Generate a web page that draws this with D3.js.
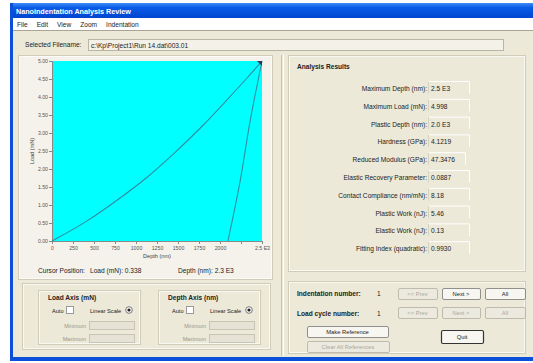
<!DOCTYPE html>
<html><head><meta charset="utf-8">
<script src="https://cdn.jsdelivr.net/npm/d3@7"></script>
<style>
html,body{margin:0;padding:0;background:#fff;overflow:hidden}
svg{display:block;font-family:"Liberation Sans",Arial,sans-serif}
</style></head><body>
<svg id="c" width="533" height="363"></svg>
<script>
// ---- data ----
const loadingDepth = [0, 417, 810, 1131, 1440, 1786, 2083, 2321, 2500];
const loadingLoad  = [0, 0.53, 1.19, 1.75, 2.40, 3.17, 3.92, 4.52, 5.0];
const unloadingDepth = [2500, 2357, 2238, 2095];
const unloadingLoad  = [5.0, 3.31, 1.64, 0];
const xTickValues = [0, 250, 500, 750, 1000, 1250, 1500, 1750, 2000, 2250, 2500];
const xTickLabels = ["0", "250", "500", "750", "1000", "1250", "1500", "1750", "2000", "", "2.5 E3"];
const yTickValues = [0, 0.5, 1, 1.5, 2, 2.5, 3, 3.5, 4, 4.5, 5];
const yTickLabels = ["0.00", "0.50", "1.00", "1.50", "2.00", "2.50", "3.00", "3.50", "4.00", "4.50", "5.00"];
const resultLabels = ["Maximum Depth (nm):", "Maximum Load (mN):", "Plastic Depth (nm):", "Hardness (GPa):",
  "Reduced Modulus (GPa):", "Elastic Recovery Parameter:", "Contact Compliance (nm/mN):",
  "Plastic Work (nJ):", "Elastic Work (nJ):", "Fitting Index (quadratic):"];
const resultValues = ["2.5 E3", "4.998", "2.0 E3", "4.1219", "47.3476", "0.0887", "8.18", "5.46", "0.13", "0.9930"];
const menuItems = ["File", "Edit", "View", "Zoom", "Indentation"];

const svg = d3.select("#c");
const BG = "#ece9d8", FONT = 6.6, TXT = "#222";

// window background
svg.append("rect").attr("width",533).attr("height",363).attr("fill","#fff");
svg.append("rect").attr("x",11).attr("y",3).attr("width",522).attr("height",357).attr("fill",BG);
const defs = svg.append("defs");
const tg = defs.append("linearGradient").attr("id","tb").attr("x1",0).attr("y1",0).attr("x2",0).attr("y2",1);
tg.append("stop").attr("offset","0").attr("stop-color","#3d8cf5");
tg.append("stop").attr("offset","0.3").attr("stop-color","#0a5ce8");
tg.append("stop").attr("offset","1").attr("stop-color","#0045d0");
svg.append("rect").attr("x",11).attr("y",3).attr("width",522).attr("height",15).attr("fill","url(#tb)");
svg.append("rect").attr("x",10).attr("y",3).attr("width",3).attr("height",357).attr("fill","#0a50d8");
svg.append("rect").attr("x",10).attr("y",357).attr("width",523).attr("height",4).attr("fill","#0a50d8");
svg.append("text").attr("x",16).attr("y",14).attr("fill","#fff").attr("font-size",7.2).attr("font-weight","bold")
  .text("Nanoindentation Analysis Review");
// menu bar
svg.append("rect").attr("x",13).attr("y",18).attr("width",520).attr("height",12).attr("fill","#fff");
let mx = 17;
menuItems.forEach(m => {
  const t = svg.append("text").attr("x",mx).attr("y",27).attr("font-size",FONT).attr("fill",TXT).text(m);
  mx += t.node().getComputedTextLength() + 9;
});
svg.append("line").attr("x1",13).attr("x2",533).attr("y1",30.5).attr("y2",30.5).attr("stroke","#a9a493");

// filename row
svg.append("text").attr("x",25).attr("y",47).attr("font-size",FONT).attr("fill",TXT).text("Selected Filename:");
svg.append("rect").attr("x",88.5).attr("y",39.5).attr("width",415).attr("height",11).attr("fill","#f3f1e8").attr("stroke","#b9b5a3");
svg.append("text").attr("x",91).attr("y",47.5).attr("font-size",FONT).attr("fill",TXT).text("c:\\Kp\\Project1\\Run 14.dat\\003.01");

function group(x,y,w,h){
  svg.append("rect").attr("x",x+0.5).attr("y",y+0.5).attr("width",w).attr("height",h).attr("fill","none").attr("stroke","#d0ccb8");
  svg.append("rect").attr("x",x+1.5).attr("y",y+1.5).attr("width",w-2).attr("height",h-2).attr("fill","none").attr("stroke","#fff").attr("stroke-opacity",0.7);
}
svg.append("rect").attr("x",18).attr("y",55).attr("width",254).attr("height",224).attr("fill","#f4f2ea");
group(18,55,254,224);
svg.append("line").attr("x1",281.5).attr("x2",281.5).attr("y1",55).attr("y2",356).attr("stroke","#c8c4b0");
svg.append("line").attr("x1",283.5).attr("x2",283.5).attr("y1",55).attr("y2",356).attr("stroke","#fff");

// ---- chart ----
const x = d3.scaleLinear().domain([0,2500]).range([52,262]);
const y = d3.scaleLinear().domain([0,5]).range([241,61]);
svg.append("rect").attr("x",x(0)).attr("y",y(5)).attr("width",x(2500)-x(0)).attr("height",y(0)-y(5)).attr("fill","#00ffff");

const xAxis = svg.append("g").attr("transform",`translate(0,${y(0)})`)
  .call(d3.axisBottom(x).tickValues(xTickValues).tickSize(3).tickPadding(2).tickFormat((d,i)=>xTickLabels[i]));
const yAxis = svg.append("g").attr("transform",`translate(${x(0)},0)`)
  .call(d3.axisLeft(y).tickValues(yTickValues).tickSize(3).tickPadding(1).tickFormat((d,i)=>yTickLabels[i]));
[xAxis,yAxis].forEach(a=>{
  a.select(".domain").attr("stroke","#888");
  a.selectAll(".tick line").attr("stroke","#888");
  a.selectAll("text").attr("font-size",5.2).attr("fill","#555").attr("font-family","Liberation Sans, Arial");
});
xAxis.selectAll(".tick text").filter((d,i)=>i===0).attr("fill","#e03020");

svg.append("text").attr("x",157).attr("y",258).attr("text-anchor","middle").attr("font-size",5.6).attr("fill","#444").text("Depth (nm)");
svg.append("text").attr("transform","translate(34,151) rotate(-90)").attr("text-anchor","middle").attr("font-size",5.6).attr("fill","#444").text("Load (mN)");

svg.append("path").datum(d3.zip(loadingDepth,loadingLoad))
  .attr("d",d3.line().x(d=>x(d[0])).y(d=>y(d[1])).curve(d3.curveBasis))
  .attr("fill","none").attr("stroke","#2f8fa0").attr("stroke-width",1.1);
svg.append("path").datum(d3.zip(unloadingDepth,unloadingLoad))
  .attr("d",d3.line().x(d=>x(d[0])).y(d=>y(d[1])).curve(d3.curveCatmullRom))
  .attr("fill","none").attr("stroke","#2f8fa0").attr("stroke-width",1.1);
svg.append("path").attr("d",`M${x(2500)-5},${y(5)}L${x(2500)},${y(5)}L${x(2500)},${y(5)+5}Z`).attr("fill","#335");

// cursor position
svg.append("text").attr("x",38).attr("y",273).attr("font-size",FONT).attr("fill",TXT).text("Cursor Position:");
svg.append("text").attr("x",90).attr("y",273).attr("font-size",FONT).attr("fill",TXT).text("Load (mN): 0.338");
svg.append("text").attr("x",178).attr("y",273).attr("font-size",FONT).attr("fill",TXT).text("Depth (nm): 2.3 E3");

// axis option groups
group(22,283,248,66);
[["Load Axis (mN)",38],["Depth Axis (nm)",158]].forEach(([title,gx])=>{
  group(gx,290,102,54);
  svg.append("text").attr("x",gx+10).attr("y",300).attr("font-size",FONT).attr("font-weight","bold").attr("fill",TXT).text(title);
  svg.append("text").attr("x",gx+14).attr("y",313).attr("font-size",5.6).attr("fill",TXT).text("Auto");
  svg.append("rect").attr("x",gx+28.5).attr("y",306.5).attr("width",7).attr("height",7).attr("fill","#fff").attr("stroke","#999");
  svg.append("text").attr("x",gx+52).attr("y",313).attr("font-size",5.6).attr("fill",TXT).text("Linear Scale");
  svg.append("circle").attr("cx",gx+91).attr("cy",310).attr("r",3.3).attr("fill","#fff").attr("stroke","#777");
  svg.append("circle").attr("cx",gx+91).attr("cy",310).attr("r",1.6).attr("fill","#222");
  [["Minimum",326],["Maximum",339]].forEach(([lab,yy])=>{
    svg.append("text").attr("x",gx+48).attr("y",yy+2).attr("text-anchor","end").attr("font-size",5.4).attr("fill","#9a978a").text(lab);
    svg.append("rect").attr("x",gx+51.5).attr("y",yy-4.5).attr("width",45).attr("height",8).attr("fill","#e6e3d6").attr("stroke","#c9c5b4");
  });
});

// analysis results
group(288,55,237,216);
svg.append("text").attr("x",297).attr("y",69).attr("font-size",FONT).attr("font-weight","bold").attr("fill",TXT).text("Analysis Results");
resultLabels.forEach((lab,i)=>{
  const yy = 91 + i*17.8;
  svg.append("text").attr("x",427).attr("y",yy).attr("text-anchor","end").attr("font-size",FONT).attr("fill",TXT).text(lab);
  const w = resultValues[i].length > 6 ? 37 : 41;
  svg.append("path").attr("d",`M428.5,${yy-9.5}H${428.5+w}V${yy+2.5}`).attr("fill","none").attr("stroke","#fff");
  svg.append("path").attr("d",`M428.5,${yy+2.5}V${yy-9.5}`).attr("fill","none").attr("stroke","#d6d2c0");
  svg.append("text").attr("x",431).attr("y",yy).attr("font-size",FONT).attr("fill",TXT).text(resultValues[i]);
});

// navigation panel
group(288,281,237,72);
function button(x0,y0,w,h,label,enabled,def){
  svg.append("rect").attr("x",x0+0.5).attr("y",y0+0.5).attr("width",w).attr("height",h).attr("rx",1.5)
    .attr("fill",enabled?"#f7f6f0":"#eceadf").attr("stroke",def?"#333":(enabled?"#777":"#b3af9f")).attr("stroke-width",def?1.2:0.8);
  svg.append("text").attr("x",x0+w/2).attr("y",y0+h/2+2.3).attr("text-anchor","middle").attr("font-size",5.8)
    .attr("fill",enabled?TXT:"#aaa79a").text(label);
}
svg.append("text").attr("x",297).attr("y",296).attr("font-size",FONT).attr("font-weight","bold").attr("fill",TXT).text("Indentation number:");
svg.append("text").attr("x",377).attr("y",296).attr("font-size",FONT).attr("fill",TXT).text("1");
svg.append("text").attr("x",297).attr("y",316).attr("font-size",FONT).attr("font-weight","bold").attr("fill",TXT).text("Load cycle number:");
svg.append("text").attr("x",377).attr("y",316).attr("font-size",FONT).attr("fill",TXT).text("1");
button(398,288,39,11,"<< Prev",false,false);
button(442,288,38,11,"Next >",true,false);
button(485,288,40,11,"All",true,false);
button(398,307,39,11,"<< Prev",false,false);
button(442,307,38,11,"Next >",false,false);
button(485,307,40,11,"All",false,false);
button(307,326,81,11,"Make Reference",true,false);
button(307,341,82,11,"Clear All References",false,false);
button(441,330,42,13,"Quit",true,true);
</script></body></html>
